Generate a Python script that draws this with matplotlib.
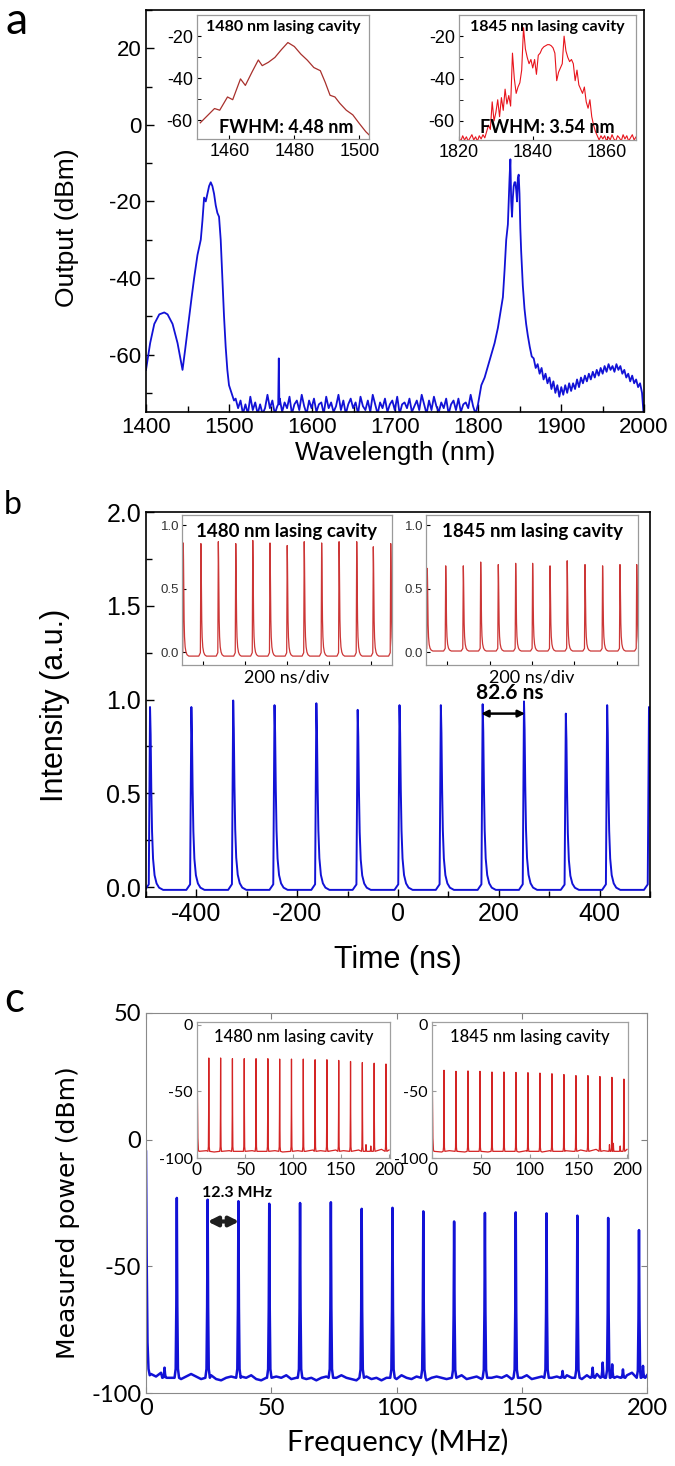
import numpy as np
import matplotlib.pyplot as plt
from matplotlib.ticker import MultipleLocator

plt.rcParams['font.family'] = ['Liberation Sans', 'DejaVu Sans']
plt.rcParams['axes.unicode_minus'] = False

BLUE = '#1212d6'

# ---------------- panel a : optical spectrum ----------------
a_left_wl = [1400, 1405, 1410, 1416, 1422, 1426, 1432, 1438, 1444, 1447, 1451, 1455,
             1458, 1462, 1466, 1468, 1470, 1472, 1474, 1476, 1478, 1480, 1482, 1484,
             1486, 1488, 1490, 1492, 1494, 1496, 1498, 1500, 1503, 1506]
a_left_db = [-64, -57, -52, -49.5, -49, -49.5, -52, -57, -64, -59, -52, -45,
             -40, -34, -30, -25, -19, -20, -18, -16, -15, -16, -18, -21,
             -23, -24, -30, -40, -50, -58, -64, -68, -70, -72]
a_floor_db = [-71.5, -74.0, -72.0, -75.5, -73.0, -75.5, -71.0, -74.5, -72.5, -75.5,
              -73.0, -75.5, -74.0, -70.5, -74.0, -72.0, -75.5, -73.5, -71.5, -75.0,
              -72.5, -74.0, -71.0, -75.5, -73.0, -72.0, -74.5, -70.5, -73.5, -75.5,
              -72.0, -74.0, -71.5, -75.0, -73.0, -72.5, -75.5, -71.0, -74.0, -72.5,
              -75.0, -73.5, -70.5, -74.5, -72.0, -75.5, -73.0, -71.5, -74.0, -72.5,
              -75.5, -71.0, -73.5, -74.5, -72.0, -75.0, -70.5, -73.0, -75.5, -72.5,
              -74.0, -71.5, -75.0, -73.0, -72.0, -74.5, -71.0, -75.5, -73.0, -72.5,
              -74.0, -71.5, -75.0, -73.5, -72.0, -74.5, -70.5, -73.0, -75.5, -72.0,
              -74.5, -71.0, -73.5, -75.0, -72.5, -74.0, -71.5, -75.5, -73.0, -72.0,
              -74.5, -71.5, -75.0, -73.0, -72.5, -74.0, -70.5, -73.5, -75.5, -73.0]
a_spike_wl = [1559.3, 1560, 1560.7]
a_spike_db = [-73, -61, -73]
a_rise_wl = [1800, 1804, 1808, 1812, 1816, 1820, 1824, 1827, 1830, 1832, 1834, 1836,
             1838, 1839, 1840, 1841, 1842, 1843, 1844, 1845, 1846, 1847, 1848, 1849,
             1850, 1851, 1852, 1854, 1856, 1858]
a_rise_db = [-73, -68, -66, -63, -60, -57, -53, -49, -45, -38, -30, -26,
             -14, -9, -20, -24, -19, -16, -15, -15, -17, -20, -14, -13,
             -18, -27, -33, -42, -48, -52]
a_tail_db = [-55, -58, -60.5, -61, -63.5, -62.5, -65, -63.5, -66.5, -65,
             -67.5, -66, -69, -67, -70, -68, -71, -68.5, -70.5, -68,
             -70, -67.5, -69.5, -67.5, -69, -66.5, -68.5, -66, -67.5, -65.5,
             -67, -65, -66.5, -64.5, -66, -64, -65.5, -63.5, -65, -63,
             -64.5, -62.5, -64, -63, -64.5, -62.5, -64, -63, -65, -64,
             -66, -65, -67, -65.5, -67.5, -66.5, -68.5, -67.5, -70, -77]

a1_wl = [1451, 1453.4, 1455.4, 1457, 1459.4, 1461, 1463.4, 1464.9, 1467, 1468.9,
         1470.1, 1472, 1474, 1476, 1478, 1480, 1482, 1484, 1486, 1488,
         1489.5, 1491, 1492.5, 1494, 1496, 1498, 1500, 1502, 1503]
a1_db = [-61.3, -57.6, -54.5, -55.3, -49, -50.3, -40.4, -43.5, -37, -31.4,
         -34.1, -32.5, -30.2, -26.5, -23.1, -25, -28.6, -31.5, -35, -36.5,
         -42, -48.2, -49, -52, -55.3, -57.5, -61.6, -65.5, -67]
a2_db = [-68, -69.5, -67, -69, -67.5, -69.5, -68, -66.5, -69, -67.5,
         -69.5, -67, -68.5, -66.5, -68, -65, -62, -64, -51, -60,
         -56, -50, -58, -49, -55, -45, -52, -48, -53, -28,
         -40, -47, -44, -42, -36, -16, -26, -30, -33, -31,
         -35, -31, -38, -29, -28, -26, -25, -24.5, -24, -24,
         -24.5, -25.5, -28, -41, -37, -35, -33, -20, -27, -30,
         -32, -31, -33, -41, -36, -43, -45, -47, -44, -51,
         -54, -50, -58, -62, -65, -67, -69, -67, -68.5,
         -67, -69.5, -67.5, -69, -66.5, -68.5, -69.5, -67, -68, -69.5,
         -66.5, -68.5, -67, -69.5, -68, -66.5, -69, -67.5, -69.5, -67,
         -68.5, -67.5]

# ---------------- panel b : pulse trains ----------------
b_peak_t = [-492, -410, -327, -245, -162, -80, 3, 85, 168, 250, 333, 415, 498]
b_peak_h = [0.96, 0.96, 0.995, 0.97, 0.98, 0.945, 0.97, 0.97, 0.975, 0.99, 0.925, 0.97, 0.96]
b1_peak_t = [-494, -410, -327, -244, -163, -81, 1, 82, 165, 248, 332, 411, 494]
b1_peak_h = [0.86, 0.855, 0.87, 0.855, 0.88, 0.86, 0.84, 0.87, 0.86, 0.87, 0.87, 0.83, 0.855]
b2_peak_t = [-494, -407, -324, -242, -159, -77, 3, 85, 166, 250, 333, 415, 494]
b2_peak_h = [0.66, 0.68, 0.68, 0.71, 0.69, 0.70, 0.70, 0.68, 0.72, 0.69, 0.68, 0.69, 0.69]
pulse_dt = [-10, -2.5, -1.2, 0, 1.2, 2.5, 4, 6, 9, 13, 18, 26]
pulse_shape = [0, 0.03, 0.5, 1.0, 0.85, 0.55, 0.32, 0.17, 0.08, 0.035, 0.012, 0]

# ---------------- panel c : RF spectra ----------------
c_peak_f = [12.3, 24.6, 36.9, 49.2, 61.5, 73.8, 86.1, 98.4, 110.7, 123.0, 135.3,
            147.6, 159.9, 172.2, 184.5, 196.8]
c_peak_db = [-23, -23.7, -24.3, -25.3, -25, -24.7, -27.3, -26.9, -28.3, -32.3, -28.9,
             -28.7, -29.1, -30, -30.9, -35.7]
c_dc_f = [0, 0.25, 0.6, 1.0, 1.5]
c_dc_db = [-4.7, -45, -80, -90.5, -93]
c_spur_f = [7.4, 166.3, 178.3, 182.3, 186.1, 190.4, 198.4]
c_spur_db = [-90, -91.3, -90, -88, -88.7, -90.7, -89.3]
c_floor_db = [-92.5, -93.5, -92.0, -93.0, -94.0, -93.0, -94.5, -93.5, -92.5, -93.5,
              -94.5, -94.0, -93.0, -94.5, -95.0, -94.0, -93.5, -94.5, -93.5, -94.0,
              -93.0, -94.5, -95.0, -94.0, -94.5, -93.5, -94.0, -93.0, -94.5, -94.0,
              -93.5, -94.5, -94.0, -95.0, -94.0, -93.5, -94.5, -94.0, -93.0, -94.0,
              -94.5, -95.0, -94.0, -93.5, -94.5, -94.0, -95.0, -94.0, -93.5, -94.5,
              -93.0, -94.0, -94.5, -93.5, -94.5, -95.0, -94.0, -93.5, -94.0, -94.5,
              -93.5, -94.0, -93.0, -94.5, -94.0, -93.5, -94.5, -95.0, -94.0, -93.5,
              -94.0, -93.0, -94.5, -93.5, -94.0, -93.0, -94.5, -94.0, -93.5, -92.5,
              -94.0, -93.5, -94.5, -93.0, -94.0, -93.5, -94.5, -93.0, -94.0, -92.5,
              -93.5, -94.0, -92.5, -93.5, -94.5, -93.0, -92.0, -93.5, -94.0, -93.0]
c1_peak_db = [-25.0, -25.0, -25.5, -25.5, -25.5, -25.5, -25.8, -25.8, -25.8, -26.3,
              -26.3, -26.8, -27.6, -28.4, -28.9, -29.5]
c2_peak_db = [-34.2, -35.0, -34.7, -35.0, -35.5, -35.5, -35.8, -36.0, -36.3, -36.8,
              -37.4, -38.2, -38.2, -38.9, -39.5, -40.8]
c1_dc_db = [-1.3, -50, -85, -94]
c2_dc_db = [0.0, -50, -85, -94]
c_in_dc_f = [0, 0.4, 0.9, 1.5]
c1_floor_db = [-95, -94.5, -95.5, -95, -94.5, -95, -95.5, -94.5, -95, -95, -94.5, -95.5,
               -95, -94.5, -95, -94, -94.5, -95, -94, -94.5, -93.5, -94, -93, -94, -93.5, -94]
c2_floor_db = [-95, -95.5, -94.5, -95, -95.5, -95, -94.5, -95.5, -95, -94.5, -95, -95.5,
               -94.5, -95, -95.5, -94.5, -95, -94.5, -95, -94, -94.5, -93.5, -94.5, -93, -94, -93.5]
c1_spur_f = [176, 181]
c1_spur_db = [-90, -91]
c2_spur_f = [182, 186, 193]
c2_spur_db = [-90, -89, -91]
spec_dt = [-0.9, -0.45, -0.2, 0, 0.2, 0.45, 0.9]
spec_shape = [0, 0.05, 0.4, 1, 0.4, 0.05, 0]


def pulses(centers, heights, base):
    t, y = [], []
    for c, h in zip(centers, heights):
        for d, s in zip(pulse_dt, pulse_shape):
            t.append(c + d)
            y.append(base + (h - base) * s)
    return t, y


def rf_trace(floor_f, floor_db, pk_f, pk_db, base, gap=1.0):
    f, p = [], []
    for x, v in zip(floor_f, floor_db):
        if min(abs(x - q) for q in pk_f) > gap:
            f.append(x)
            p.append(v)
    for c, h in zip(pk_f, pk_db):
        for d, s in zip(spec_dt, spec_shape):
            f.append(c + d)
            p.append(base + (h - base) * s)
    order = np.argsort(f)
    return np.array(f)[order], np.array(p)[order]


W, H = 675, 1466
fig = plt.figure(figsize=(6.75, 14.66), dpi=100)


def box(x0, y0, x1, y1):
    return [x0 / W, 1 - y1 / H, (x1 - x0) / W, (y1 - y0) / H]


def fpos(x, y):
    return x / W, 1 - y / H


def inset_style(ax, col='#9a9a9a'):
    for s in ax.spines.values():
        s.set_color(col)
        s.set_linewidth(0.9)


# ===== panel a =====
ax = fig.add_axes(box(146, 10, 644, 412))
fl = sorted(zip(list(np.linspace(1508, 1800, len(a_floor_db))) + a_spike_wl,
                a_floor_db + a_spike_db))
wl = a_left_wl + [p[0] for p in fl] + a_rise_wl[1:] + list(np.linspace(1860, 2000, len(a_tail_db)))
db = a_left_db + [p[1] for p in fl] + a_rise_db[1:] + a_tail_db
ax.plot(wl, db, color=BLUE, lw=1.3)
ax.set_xlim(1400, 2000)
ax.set_ylim(-75, 30)
ax.set_xticks(range(1400, 2001, 100))
ax.xaxis.set_minor_locator(MultipleLocator(50))
ax.set_yticks([-60, -40, -20, 0, 20])
ax.yaxis.set_minor_locator(MultipleLocator(10))
ax.tick_params(which='both', direction='in', labelsize=16, width=1)
ax.tick_params(which='major', length=6)
ax.tick_params(which='minor', length=4)
for s in ax.spines.values():
    s.set_linewidth(1.2)
ax.set_xlabel('Wavelength (nm)', fontsize=19)
ax.set_ylabel('Output (dBm)', fontsize=19)
ax.xaxis.set_label_coords(*fpos(395, 453), transform=fig.transFigure)
ax.yaxis.set_label_coords(*fpos(67, 228), transform=fig.transFigure)
ax.xaxis.label.set_va('center')
ax.yaxis.label.set_va('center')

ia = fig.add_axes(box(197, 15, 369, 139))
ia.plot(a1_wl, a1_db, color='#a8302c', lw=0.9)
ia.set_xlim(1450, 1503)
ia.set_ylim(-69, -10)
ia.set_xticks([1460, 1480, 1500])
ia.set_yticks([-60, -40, -20])
ia.yaxis.set_minor_locator(MultipleLocator(10))
ia.tick_params(which='both', direction='in', labelsize=13, length=3, pad=3)
inset_style(ia)
ia.text(0.5, 0.9, '1480 nm lasing cavity', transform=ia.transAxes, ha='center', va='center',
        family='Lato', weight='bold', fontsize=11.5)
ia.text(0.52, 0.09, 'FWHM: 4.48 nm', transform=ia.transAxes, ha='center', va='center',
        family='Lato', weight='bold', fontsize=13)

ib = fig.add_axes(box(459, 15, 636, 140))
ib.plot(np.linspace(1820, 1870, len(a2_db)), a2_db, color='#e8141c', lw=0.8)
ib.set_xlim(1820, 1868)
ib.set_ylim(-69, -10)
ib.set_xticks([1820, 1840, 1860])
ib.set_yticks([-60, -40, -20])
ib.yaxis.set_minor_locator(MultipleLocator(10))
ib.tick_params(which='both', direction='in', labelsize=13, length=3, pad=3)
inset_style(ib)
ib.text(0.5, 0.9, '1845 nm lasing cavity', transform=ib.transAxes, ha='center', va='center',
        family='Lato', weight='bold', fontsize=11.5)
ib.text(0.5, 0.1, 'FWHM: 3.54 nm', transform=ib.transAxes, ha='center', va='center',
        family='Lato', weight='bold', fontsize=13)

# ===== panel b =====
bx = fig.add_axes(box(146, 512, 650, 897))
t, y = pulses(b_peak_t, b_peak_h, -0.015)
bx.plot(t, y, color=BLUE, lw=1.4)
bx.set_xlim(-500, 500)
bx.set_ylim(-0.053, 2.0)
bx.set_xticks([-400, -200, 0, 200, 400])
bx.xaxis.set_minor_locator(MultipleLocator(100))
bx.set_yticks([0.0, 0.5, 1.0, 1.5, 2.0])
bx.yaxis.set_minor_locator(MultipleLocator(0.25))
bx.tick_params(which='both', direction='in', labelsize=18, width=1)
bx.tick_params(which='major', length=6)
bx.tick_params(which='minor', length=4)
bx.yaxis.set_major_formatter(plt.FormatStrFormatter('%.1f'))
for s in bx.spines.values():
    s.set_linewidth(1.2)
bx.set_xlabel('Time (ns)', fontsize=22)
bx.set_ylabel('Intensity (a.u.)', fontsize=22)
bx.xaxis.set_label_coords(*fpos(398, 960), transform=fig.transFigure)
bx.yaxis.set_label_coords(*fpos(55, 705), transform=fig.transFigure)
bx.xaxis.label.set_va('center')
bx.yaxis.label.set_va('center')
bx.annotate('', xy=(165, 0.925), xytext=(252, 0.925),
            arrowprops=dict(arrowstyle='<|-|>', lw=1.8, color='black', mutation_scale=10,
                            shrinkA=0, shrinkB=0))
bx.text(222, 1.037, '82.6 ns', ha='center', va='center', family='Lato', weight='bold', fontsize=15)

for (x0, x1), pt, ph, base, title in [((182, 392), b1_peak_t, b1_peak_h, -0.03, '1480 nm lasing cavity'),
                                      ((426, 638), b2_peak_t, b2_peak_h, 0.01, '1845 nm lasing cavity')]:
    ins = fig.add_axes(box(x0, 515, x1, 665))
    t, y = pulses(pt, ph, base)
    ins.plot(t, y, color='#cc3636', lw=0.9)
    ins.set_xlim(-500, 500)
    ins.set_ylim(-0.1, 1.08)
    ins.set_xticks([-400, -200, 0, 200, 400])
    ins.set_xticklabels([])
    ins.set_yticks([0.0, 0.5, 1.0])
    ins.yaxis.set_major_formatter(plt.FormatStrFormatter('%.1f'))
    ins.tick_params(direction='in', labelsize=9.5, length=3, pad=2, labelcolor='#333333')
    inset_style(ins)
    ins.set_xlabel('200 ns/div', family='Lato', fontsize=13, labelpad=1)
    ins.text(0.5, 0.89, title, transform=ins.transAxes, ha='center', va='center',
             family='Lato', weight='bold', fontsize=13.5)

# ===== panel c =====
cx = fig.add_axes(box(146, 1013, 647, 1393))
f, p = rf_trace(list(np.linspace(2, 200, len(c_floor_db))), c_floor_db, c_peak_f + c_spur_f,
                c_peak_db + c_spur_db, -94.0)
f = np.concatenate([c_dc_f, f])
p = np.concatenate([c_dc_db, p])
cx.plot(f, p, color=BLUE, lw=1.8)
cx.set_xlim(0, 200)
cx.set_ylim(-100, 50)
cx.set_xticks([0, 50, 100, 150, 200])
cx.set_yticks([-100, -50, 0, 50])
cx.tick_params(direction='in', top=True, right=True, labelsize=17, length=4, color='#808080')
for lab in cx.get_xticklabels() + cx.get_yticklabels():
    lab.set_family('Lato')
for s in cx.spines.values():
    s.set_color('#8a8a8a')
cx.set_xlabel('Frequency (MHz)', family='Lato', fontsize=21)
cx.set_ylabel('Measured power (dBm)', family='DejaVu Sans', fontsize=18)
cx.xaxis.set_label_coords(*fpos(398, 1442), transform=fig.transFigure)
cx.yaxis.set_label_coords(*fpos(68, 1213), transform=fig.transFigure)
cx.xaxis.label.set_va('center')
cx.yaxis.label.set_va('center')
cx.annotate('', xy=(24.6, -32.3), xytext=(37.2, -32.3),
            arrowprops=dict(arrowstyle='<|-|>', lw=3.0, color='#1e1e1e', mutation_scale=14,
                            shrinkA=0, shrinkB=0))
cx.text(36.5, -21.2, '12.3 MHz', ha='center', va='center', family='Lato', weight='bold', fontsize=11.5)

for (x0, x1), pk, dc, fl_db, sf, sd, title in [
        ((197, 390), c1_peak_db, c1_dc_db, c1_floor_db, c1_spur_f, c1_spur_db, '1480 nm lasing cavity'),
        ((432, 628), c2_peak_db, c2_dc_db, c2_floor_db, c2_spur_f, c2_spur_db, '1845 nm lasing cavity')]:
    ins = fig.add_axes(box(x0, 1022, x1, 1158))
    f, p = rf_trace(list(np.linspace(2, 200, len(fl_db))), fl_db, c_peak_f + sf, pk + sd, -95.0)
    f = np.concatenate([c_in_dc_f, f])
    p = np.concatenate([dc, p])
    ins.plot(f, p, color='#d42424', lw=0.9)
    ins.set_xlim(0, 201)
    ins.set_ylim(-100, 2)
    ins.set_xticks([0, 50, 100, 150, 200])
    ins.set_yticks([-100, -50, 0])
    ins.tick_params(direction='in', labelsize=12.5, length=3, pad=3, color='#999999')
    for lab in ins.get_xticklabels() + ins.get_yticklabels():
        lab.set_family('Lato')
    for lab in ins.get_yticklabels():
        lab.set_fontsize(11.5)
    inset_style(ins, '#a0a0a0')
    ins.text(0.5, 0.89, title, transform=ins.transAxes, ha='center', va='center',
             family='Lato', weight='medium', fontsize=12)

# panel letters
fig.text(*fpos(17, 34), 'a', family='Lato', fontsize=32, ha='center', va='baseline')
fig.text(*fpos(13, 514), 'b', family='Lato', fontsize=23, ha='center', va='baseline')
fig.text(*fpos(14, 1012), 'c', family='Lato', fontsize=30, ha='center', va='baseline')

fig.savefig('out.png', dpi=100)
